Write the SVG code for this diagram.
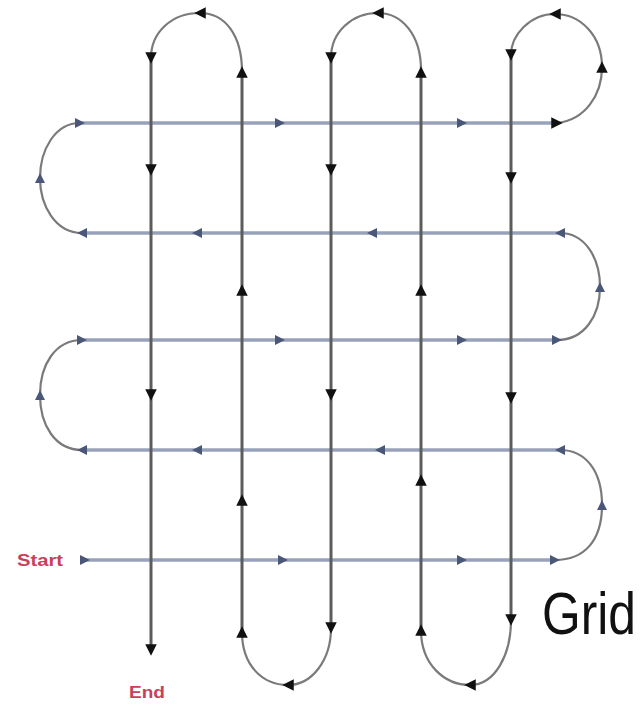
<svg xmlns="http://www.w3.org/2000/svg" width="644" height="705" viewBox="0 0 644 705">
<style>
.h{stroke:#97a2ba;stroke-width:3.5;fill:none}
.v{stroke:#5c5c5c;stroke-width:3;fill:none}
.arc{stroke:#7a7a7a;stroke-width:2.2;fill:none}
.ha{fill:#4a5778}
.va{fill:#111}
.lbl{font-family:"Liberation Sans",Arial,sans-serif;fill:#c8405c;font-weight:bold}
.grid{font-family:"Liberation Sans",Arial,sans-serif;fill:#111;font-size:60px}
</style>
<defs>
<path id="ah" d="M-5,-5 L5,0 L-5,5 Z"/>
</defs>
<rect width="644" height="705" fill="#fff"/>
<g id="connectors">
<g id="horizontal-lines">
<path class="h" d="M85,560 H555"/>
<path class="h" d="M82,450 H560"/>
<path class="h" d="M82,340 H557"/>
<path class="h" d="M82,233 H560"/>
<path class="h" d="M80,123 H557"/>
</g>
<g id="side-arcs">
<path class="arc" d="M555,560 C585,560 602,540 602,505 C602,470 585,450 560,450"/>
<path class="arc" d="M82,450 C55,450 40,425 40,395 C40,365 55,340 82,340"/>
<path class="arc" d="M557,340 C585,340 600,315 600,287 C600,258 585,233 560,233"/>
<path class="arc" d="M82,233 C55,233 40,205 40,178 C40,150 55,123 80,123"/>
<path class="arc" d="M557,123 C585,120 602,95 602,67 C602,35 580,14 555,14 C530,14 511,35 511,55"/>
</g>
<g id="vertical-lines">
<path class="v" d="M511,55 V620"/>
<path class="v" d="M421,70 V630"/>
<path class="v" d="M331,58 V628"/>
<path class="v" d="M242,72 V632"/>
<path class="v" d="M151,58 V648"/>
</g>
<g id="end-arcs">
<path class="arc" d="M511,620 C511,655 495,685 470,685 C445,685 421,665 421,630"/>
<path class="arc" d="M421,70 C421,35 402,13 378,13 C352,13 331,32 331,58"/>
<path class="arc" d="M331,628 C331,660 312,685 288,685 C262,685 242,665 242,632"/>
<path class="arc" d="M242,72 C242,35 225,13 200,13 C172,13 151,32 151,58"/>
</g>
<g id="h-arrows" class="ha">
<use href="#ah" transform="translate(85,560)"/>
<use href="#ah" transform="translate(283,560)"/>
<use href="#ah" transform="translate(462,560)"/>
<use href="#ah" transform="translate(555,560)"/>
<use href="#ah" transform="translate(602,505) rotate(-90)"/>
<use href="#ah" transform="translate(560,450) rotate(180)"/>
<use href="#ah" transform="translate(380,450) rotate(180)"/>
<use href="#ah" transform="translate(197,450) rotate(180)"/>
<use href="#ah" transform="translate(82,450) rotate(180)"/>
<use href="#ah" transform="translate(40,395) rotate(-90)"/>
<use href="#ah" transform="translate(82,340)"/>
<use href="#ah" transform="translate(280,340)"/>
<use href="#ah" transform="translate(462,340)"/>
<use href="#ah" transform="translate(557,340)"/>
<use href="#ah" transform="translate(600,287) rotate(-90)"/>
<use href="#ah" transform="translate(560,233) rotate(180)"/>
<use href="#ah" transform="translate(372,233) rotate(180)"/>
<use href="#ah" transform="translate(197,233) rotate(180)"/>
<use href="#ah" transform="translate(82,233) rotate(180)"/>
<use href="#ah" transform="translate(40,178) rotate(-90)"/>
<use href="#ah" transform="translate(80,123)"/>
<use href="#ah" transform="translate(280,123)"/>
<use href="#ah" transform="translate(462,123)"/>
</g>
<g id="v-arrows" class="va">
<use href="#ah" transform="translate(557,123) scale(1.15)"/>
<use href="#ah" transform="translate(602,67) rotate(-90) scale(1.15)"/>
<use href="#ah" transform="translate(555,14) rotate(180) scale(1.15)"/>
<use href="#ah" transform="translate(511,55) rotate(90) scale(1.15)"/>
<use href="#ah" transform="translate(511,178) rotate(90) scale(1.15)"/>
<use href="#ah" transform="translate(511,398) rotate(90) scale(1.15)"/>
<use href="#ah" transform="translate(511,620) rotate(90) scale(1.15)"/>
<use href="#ah" transform="translate(470,685) rotate(180) scale(1.15)"/>
<use href="#ah" transform="translate(421,630) rotate(-90) scale(1.15)"/>
<use href="#ah" transform="translate(421,480) rotate(-90) scale(1.15)"/>
<use href="#ah" transform="translate(421,290) rotate(-90) scale(1.15)"/>
<use href="#ah" transform="translate(421,72) rotate(-90) scale(1.15)"/>
<use href="#ah" transform="translate(378,13) rotate(180) scale(1.15)"/>
<use href="#ah" transform="translate(331,58) rotate(90) scale(1.15)"/>
<use href="#ah" transform="translate(331,170) rotate(90) scale(1.15)"/>
<use href="#ah" transform="translate(331,395) rotate(90) scale(1.15)"/>
<use href="#ah" transform="translate(331,628) rotate(90) scale(1.15)"/>
<use href="#ah" transform="translate(288,685) rotate(180) scale(1.15)"/>
<use href="#ah" transform="translate(242,632) rotate(-90) scale(1.15)"/>
<use href="#ah" transform="translate(242,500) rotate(-90) scale(1.15)"/>
<use href="#ah" transform="translate(242,290) rotate(-90) scale(1.15)"/>
<use href="#ah" transform="translate(242,72) rotate(-90) scale(1.15)"/>
<use href="#ah" transform="translate(200,13) rotate(180) scale(1.15)"/>
<use href="#ah" transform="translate(151,58) rotate(90) scale(1.15)"/>
<use href="#ah" transform="translate(151,170) rotate(90) scale(1.15)"/>
<use href="#ah" transform="translate(151,395) rotate(90) scale(1.15)"/>
<use href="#ah" transform="translate(151,650) rotate(90) scale(1.15)"/>
</g>
</g>
<g id="start"><text class="lbl" x="17" y="566" font-size="16" textLength="46" lengthAdjust="spacingAndGlyphs">Start</text></g>
<g id="end"><text class="lbl" x="129" y="698" font-size="16" textLength="36" lengthAdjust="spacingAndGlyphs">End</text></g>
<g id="title"><text class="grid" x="542" y="634" textLength="94" lengthAdjust="spacingAndGlyphs">Grid</text></g>
</svg>
